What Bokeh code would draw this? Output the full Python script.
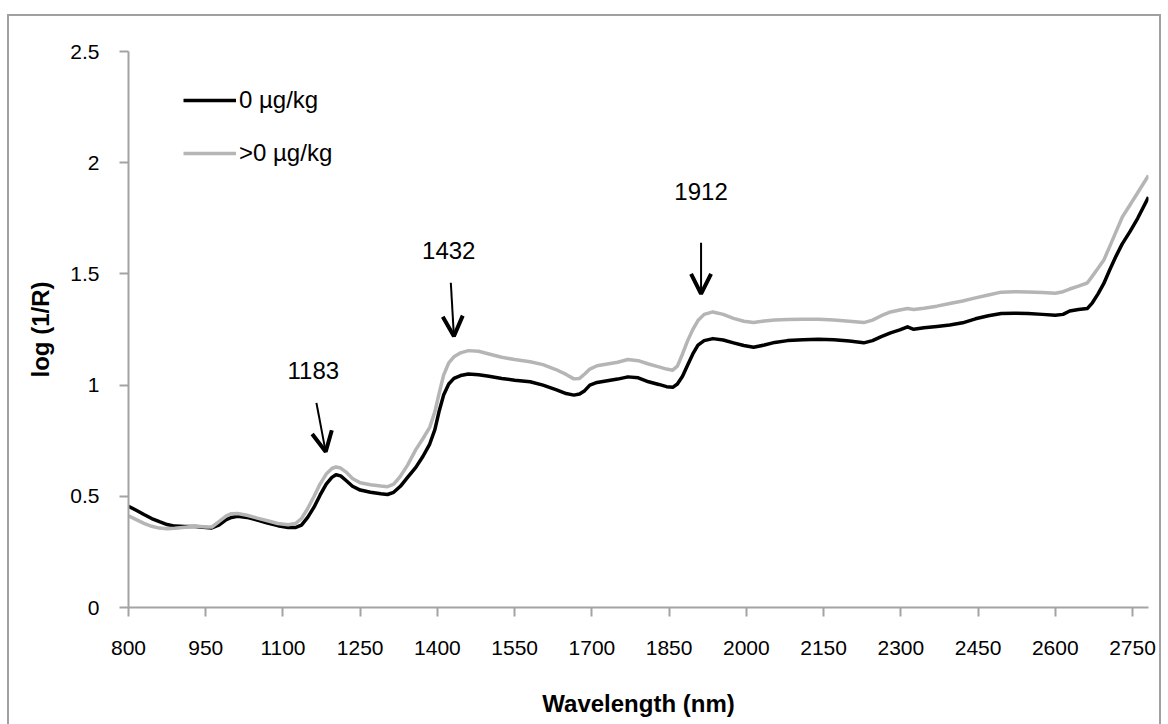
from bokeh.plotting import figure
from bokeh.models import (Range1d, FixedTicker, NumeralTickFormatter, Legend, LegendItem,
                          Arrow, OpenHead, LabelSet, ColumnDataSource, InlineStyleSheet)
from bokeh.core.properties import value
from bokeh.embed import file_html
from bokeh.resources import INLINE

# NIR spectra: mean log(1/R) for the two contamination classes
wavelength_nm = [800, 815, 830, 845, 860, 875, 890, 910, 930, 950, 962, 975, 990, 1000, 1012,
                 1030, 1050, 1070, 1090, 1110, 1125, 1136, 1148, 1160, 1172, 1184, 1195, 1203,
                 1212, 1222, 1235, 1250, 1270, 1290, 1303, 1315, 1328, 1342, 1358, 1372, 1385,
                 1395, 1403, 1412, 1422, 1432, 1445, 1460, 1480, 1500, 1525, 1550, 1580, 1605,
                 1630, 1650, 1665, 1676, 1686, 1696, 1710, 1730, 1750, 1770, 1790, 1810, 1830,
                 1845, 1857, 1866, 1876, 1886, 1896, 1906, 1918, 1935, 1955, 1975, 1995, 2014,
                 2035, 2055, 2080, 2110, 2140, 2170, 2200, 2228, 2245, 2262, 2280, 2298, 2313,
                 2325, 2345, 2370, 2395, 2420, 2445, 2470, 2495, 2520, 2547, 2575, 2600, 2615,
                 2628, 2645, 2662, 2672, 2683, 2694, 2706, 2718, 2730, 2745, 2760, 2781]
absorb_zero = [0.455, 0.437, 0.418, 0.400, 0.386, 0.373, 0.366, 0.364, 0.364, 0.360, 0.358,
               0.370, 0.395, 0.405, 0.410, 0.405, 0.393, 0.380, 0.368, 0.360, 0.360, 0.370,
               0.405, 0.450, 0.505, 0.555, 0.585, 0.597, 0.592, 0.572, 0.545, 0.528, 0.518,
               0.511, 0.508, 0.518, 0.545, 0.585, 0.630, 0.680, 0.735, 0.800, 0.880, 0.955,
               1.005, 1.030, 1.043, 1.050, 1.047, 1.040, 1.030, 1.022, 1.015, 1.000, 0.980,
               0.962, 0.955, 0.960, 0.975, 1.000, 1.012, 1.020, 1.027, 1.037, 1.033, 1.015,
               1.003, 0.993, 0.990, 1.005, 1.040, 1.090, 1.140, 1.180, 1.200, 1.209, 1.203,
               1.190, 1.178, 1.170, 1.180, 1.192, 1.200, 1.204, 1.206, 1.204, 1.198, 1.190,
               1.200, 1.218, 1.235, 1.248, 1.262, 1.251, 1.258, 1.264, 1.270, 1.280, 1.298,
               1.312, 1.322, 1.323, 1.322, 1.318, 1.314, 1.318, 1.333, 1.340, 1.344, 1.370,
               1.410, 1.456, 1.520, 1.580, 1.635, 1.690, 1.750, 1.845]
absorb_positive = [0.412, 0.395, 0.378, 0.365, 0.357, 0.354, 0.356, 0.361, 0.366, 0.362, 0.362,
                   0.385, 0.412, 0.422, 0.423, 0.415, 0.402, 0.390, 0.378, 0.372, 0.378, 0.400,
                   0.445, 0.498, 0.555, 0.600, 0.625, 0.632, 0.627, 0.610, 0.580, 0.561, 0.552,
                   0.546, 0.543, 0.555, 0.590, 0.640, 0.710, 0.760, 0.810, 0.880, 0.960, 1.045,
                   1.100, 1.127, 1.145, 1.155, 1.152, 1.140, 1.125, 1.115, 1.105, 1.092, 1.070,
                   1.048, 1.028, 1.030, 1.050, 1.072, 1.087, 1.095, 1.103, 1.115, 1.110, 1.095,
                   1.082, 1.072, 1.067, 1.085, 1.140, 1.200, 1.250, 1.290, 1.318, 1.329, 1.318,
                   1.300, 1.287, 1.281, 1.288, 1.293, 1.295, 1.296, 1.296, 1.293, 1.287, 1.281,
                   1.292, 1.312, 1.329, 1.338, 1.344, 1.340, 1.346, 1.355, 1.367, 1.378, 1.392,
                   1.405, 1.418, 1.420, 1.419, 1.416, 1.413, 1.420, 1.432, 1.445, 1.459, 1.490,
                   1.525, 1.561, 1.625, 1.690, 1.755, 1.810, 1.865, 1.943]
series_names = ["0 µg/kg", ">0 µg/kg"]

x_ticks = [800, 950, 1100, 1250, 1400, 1550, 1700, 1850, 2000, 2150, 2300, 2450, 2600, 2750]
y_ticks = [0, 0.5, 1, 1.5, 2, 2.5]

# marked absorption bands
peak_nm = [1183, 1432, 1912]
peak_labels = ["1183", "1432", "1912"]

AXIS_GREY = "#a3a3a3"
FONT = "Liberation Sans"

p = figure(width=1168, height=724, x_range=Range1d(800, 2781), y_range=Range1d(0, 2.5),
           output_backend="svg", toolbar_location=None,
           min_border_left=128, min_border_right=20, min_border_top=51, min_border_bottom=117)
p.outline_line_color = None
p.xgrid.visible = False
p.ygrid.visible = False
p.background_fill_color = "white"
p.border_fill_color = "white"

# thin grey frame around the whole chart area (bottom edge runs past the page)
p.stylesheets = [InlineStyleSheet(css="""
:host { position: relative; overflow: hidden; }
:host::after {
  content: ""; position: absolute; left: 7px; top: 14px; width: 1154px; height: 760px;
  border: 2px solid #a0a0a0; box-sizing: border-box; pointer-events: none; z-index: 50;
}
""")]

p.xaxis.ticker = FixedTicker(ticks=x_ticks)
p.yaxis.ticker = FixedTicker(ticks=y_ticks)
p.yaxis.formatter = NumeralTickFormatter(format="0.[0]")
p.xaxis.axis_label = "Wavelength (nm)"
p.yaxis.axis_label = "log (1/R)"

for ax in (p.xaxis[0], p.yaxis[0]):
    ax.axis_line_color = AXIS_GREY
    ax.axis_line_width = 2
    ax.major_tick_line_color = AXIS_GREY
    ax.major_tick_line_width = 2
    ax.major_tick_in = 0
    ax.major_tick_out = 9
    ax.minor_tick_line_color = None
    ax.major_label_text_font = FONT
    ax.major_label_text_font_size = "21px"
    ax.major_label_text_color = "black"
    ax.axis_label_text_font = FONT
    ax.axis_label_text_font_size = "24px"
    ax.axis_label_text_font_style = "bold"
    ax.axis_label_text_color = "black"

p.xaxis.major_label_standoff = 24
p.xaxis.axis_label_standoff = 32
p.yaxis.major_label_standoff = 20
p.yaxis.axis_label_standoff = 13

r0 = p.line(wavelength_nm, absorb_zero, line_color="black", line_width=3.5, line_join="round")
r1 = p.line(wavelength_nm, absorb_positive, line_color="#b5b5b5", line_width=3.5,
            line_join="round")

legend = Legend(items=[LegendItem(label=series_names[0], renderers=[r0]),
                       LegendItem(label=series_names[1], renderers=[r1])],
                location=(55, 433), orientation="vertical",
                border_line_color=None, background_fill_alpha=0,
                padding=0, margin=0, spacing=11,
                glyph_width=53, glyph_height=42, label_height=42, label_standoff=3,
                label_text_font=FONT, label_text_font_size="24px",
                label_text_color="black")
p.add_layout(legend)

# arrows pointing down onto the bands
arrow_tip = [0.70, 1.22, 1.41]
arrow_tail = [0.92, 1.46, 1.64]
arrow_lean = [18, 6, 0]
for nm, tip, tail, lean in zip(peak_nm, arrow_tip, arrow_tail, arrow_lean):
    p.add_layout(Arrow(end=OpenHead(size=20, line_width=4, line_color="black"),
                       x_start=nm - lean, y_start=tail, x_end=nm, y_end=tip,
                       line_width=2, line_color="black"))

label_shift = [24, 10, 0]
label_y = [1.067, 1.606, 1.871]
label_src = ColumnDataSource(dict(x=[nm - s for nm, s in zip(peak_nm, label_shift)],
                                  y=label_y, text=peak_labels))
p.add_layout(LabelSet(x="x", y="y", text="text", source=label_src, text_align="center",
                      text_baseline="middle", text_font=value(FONT), text_font_size="24px",
                      text_color="black"))

open("out.html", "w").write(file_html(p, INLINE))
